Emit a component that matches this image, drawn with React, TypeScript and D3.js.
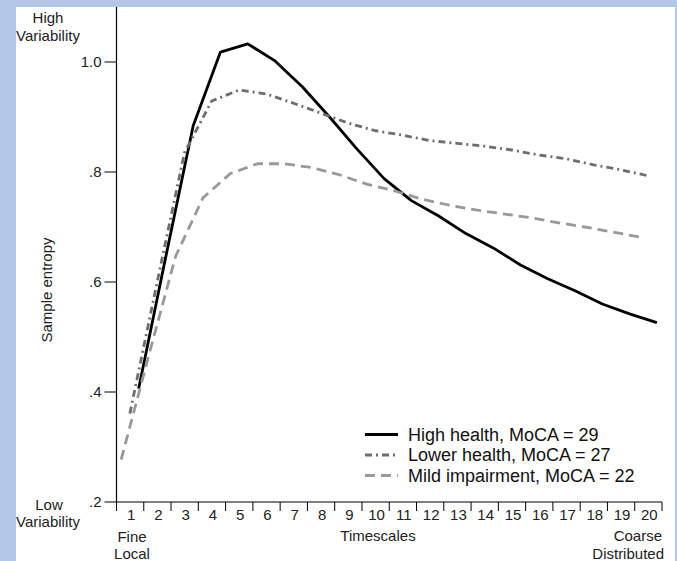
import React from "react";
import * as d3 from "d3";

const timescales = d3.range(1, 21).map(String);
const seriesNames = ["High health, MoCA = 29", "Lower health, MoCA = 27", "Mild impairment, MoCA = 22"];
const highHealth = [0.406, 0.647, 0.884, 1.018, 1.033, 1.002, 0.955, 0.9, 0.842, 0.788, 0.748, 0.72, 0.688, 0.662, 0.631, 0.606, 0.584, 0.56, 0.542, 0.526];
const lowerHealth = [0.361, 0.6, 0.835, 0.929, 0.949, 0.942, 0.925, 0.907, 0.889, 0.875, 0.867, 0.857, 0.852, 0.847, 0.84, 0.831, 0.824, 0.813, 0.804, 0.793];
const mildImpairment = [0.277, 0.464, 0.647, 0.753, 0.797, 0.815, 0.815, 0.808, 0.795, 0.778, 0.766, 0.751, 0.74, 0.731, 0.724, 0.717, 0.708, 0.7, 0.691, 0.682];
const yTickValues = [0.2, 0.4, 0.6, 0.8, 1.0];
const yTickLabels = [".2", ".4", ".6", ".8", "1.0"];

const W = 677;
const H = 561;
const FONT = "'Liberation Sans', Arial, sans-serif";
const FS = 15;

export default function App() {
  const x = d3.scaleBand<string>().domain(timescales).range([116.5, 662]);
  const y = d3.scaleLinear().domain([0.2, 1.1]).range([502, 7]);
  const dodge = d3.scalePoint<string>().domain(seriesNames).range([8.5, -9]);
  const series = [
    { name: seriesNames[0], values: highHealth, color: "#000", dash: "none", width: 2.8 },
    { name: seriesNames[1], values: lowerHealth, color: "#6e6e6e", dash: "7,4,2,4", width: 2.8 },
    { name: seriesNames[2], values: mildImpairment, color: "#999", dash: "10,6", width: 2.8 },
  ];
  const line = (name: string) =>
    d3
      .line<number>()
      .x((_, i) => (x(timescales[i]) as number) + x.bandwidth() / 2 + (dodge(name) as number))
      .y((v) => y(v));
  const x0 = x.range()[0];
  const x1 = x.range()[1];
  const y0 = y.range()[0];
  const edges = timescales.map((t) => x(t) as number).concat([x1]);
  return (
    <svg width={W} height={H} style={{ position: "fixed", left: 0, top: 0 }} fontFamily={FONT}>
      <rect width={W} height={H} fill="#b4c7e7" />
      <rect x={16} y={7} width={659} height={H - 7} fill="#fff" />
      {/* y axis */}
      <line x1={x0} x2={x0} y1={y.range()[1]} y2={y0} stroke="#000" strokeWidth={1.2} />
      {yTickValues.map((v, i) => (
        <g key={v}>
          <line x1={x0 - 12} x2={x0} y1={y(v)} y2={y(v)} stroke="#000" strokeWidth={1} />
          <text x={x0 - 15} y={y(v)} dy="0.35em" textAnchor="end" fontSize={FS} fill="#222">
            {yTickLabels[i]}
          </text>
        </g>
      ))}
      {/* x axis */}
      <line x1={x0} x2={x1} y1={y0} y2={y0} stroke="#000" strokeWidth={1.2} />
      {edges.map((e, i) => (
        <line key={i} x1={e} x2={e} y1={y0} y2={y0 + 9} stroke="#000" strokeWidth={1} />
      ))}
      {timescales.map((t) => (
        <text key={t} x={(x(t) as number) + x.bandwidth() / 2 + 1} y={520} textAnchor="middle" fontSize={FS} fill="#222">
          {t}
        </text>
      ))}
      <text x={132} y={542} textAnchor="middle" fontSize={FS} fill="#222">Fine</text>
      <text x={132} y={559} textAnchor="middle" fontSize={FS} fill="#222">Local</text>
      <text x={378} y={541} textAnchor="middle" fontSize={FS} fill="#222">Timescales</text>
      <text x={662} y={541} textAnchor="end" fontSize={FS} fill="#222">Coarse</text>
      <text x={664} y={559} textAnchor="end" fontSize={FS} fill="#222">Distributed</text>
      <text x={48} y={23} textAnchor="middle" fontSize={FS} fill="#222">High</text>
      <text x={48} y={41} textAnchor="middle" fontSize={FS} fill="#222">Variability</text>
      <text x={49} y={510} textAnchor="middle" fontSize={FS} fill="#222">Low</text>
      <text x={48} y={527} textAnchor="middle" fontSize={FS} fill="#222">Variability</text>
      <text transform="translate(52,290) rotate(-90)" textAnchor="middle" fontSize={FS} fill="#222">
        Sample entropy
      </text>
      {/* lines */}
      {series.map((s) => (
        <path
          key={s.name}
          d={line(s.name)(s.values) as string}
          fill="none"
          stroke={s.color}
          strokeWidth={s.width}
          strokeDasharray={s.dash}
          strokeLinejoin="round"
        />
      ))}
      {/* legend */}
      {series.map((s, i) => (
        <g key={s.name} transform={`translate(0,${440.5 + i * 20.5})`}>
          <line x1={365} x2={398} y1={-6} y2={-6} stroke={s.color} strokeWidth={s.width} strokeDasharray={s.dash} />
          <text x={408} y={0} fontSize={18} fill="#111">
            {s.name}
          </text>
        </g>
      ))}
    </svg>
  );
}
